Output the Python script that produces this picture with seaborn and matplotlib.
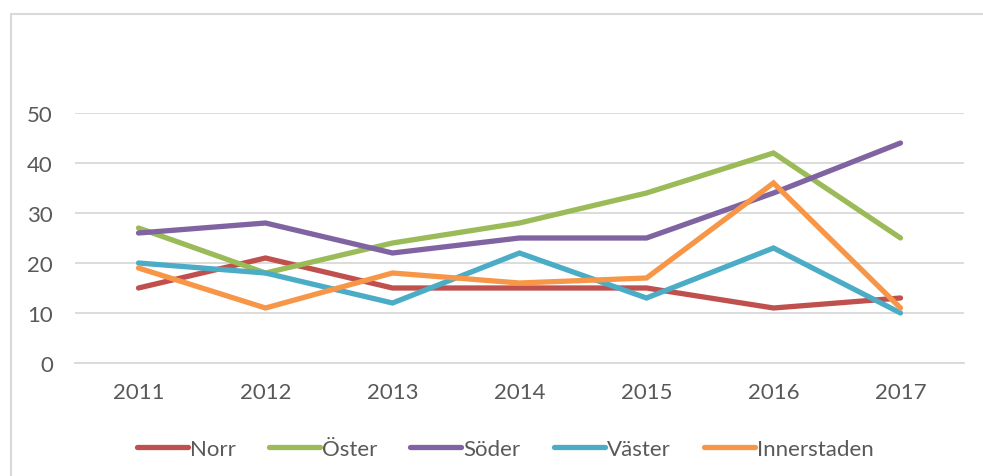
import pandas as pd
import matplotlib.pyplot as plt
import seaborn as sns
from matplotlib.patches import Rectangle

# Data
years = [2011, 2012, 2013, 2014, 2015, 2016, 2017]
norr = [15, 21, 15, 15, 15, 11, 13]
oster = [27, 18, 24, 28, 34, 42, 25]
soder = [26, 28, 22, 25, 25, 34, 44]
vaster = [20, 18, 12, 22, 13, 23, 10]
innerstaden = [19, 11, 18, 16, 17, 36, 11]

areas = ['Norr', 'Öster', 'Söder', 'Väster', 'Innerstaden']
colors = ['#C0504D', '#9BBB59', '#8064A2', '#4BACC6', '#F79646']

rows = []
for name, vals in zip(areas, [norr, oster, soder, vaster, innerstaden]):
    for y, v in zip(years, vals):
        rows.append({'År': y, 'Värde': v, 'Område': name})
df = pd.DataFrame(rows)

sns.set_theme(style="white")
plt.rcParams['font.family'] = ['Lato', 'DejaVu Sans']
text_color = '#595959'
grid_color = '#D9D9D9'
fs = 16

fig = plt.figure(figsize=(9.83, 4.77), dpi=100)
ax = fig.add_axes([75 / 983, 113 / 477, 889 / 983, 250 / 477])

sns.lineplot(data=df, x='År', y='Värde', hue='Område', hue_order=areas,
             palette=colors, linewidth=3.8, ax=ax, legend=True)
for line in ax.get_lines():
    line.set_solid_capstyle('round')
    line.set_solid_joinstyle('miter')

ax.set_xlim(2010.5, 2017.5)
ax.set_ylim(0, 50)
ax.set_xticks(years)
ax.set_xticklabels([str(y) for y in years])
ax.set_yticks([0, 10, 20, 30, 40, 50])
ax.yaxis.grid(True, color=grid_color, linewidth=1.3)
ax.set_axisbelow(True)
for side in ['top', 'right', 'left']:
    ax.spines[side].set_visible(False)
ax.spines['bottom'].set_color(grid_color)
ax.spines['bottom'].set_linewidth(1.3)
ax.tick_params(axis='both', length=0, labelsize=fs, colors=text_color)
ax.tick_params(axis='x', pad=14)
ax.tick_params(axis='y', pad=16)
ax.set_xlabel('')
ax.set_ylabel('')

handles, labels = ax.get_legend_handles_labels()
ax.get_legend().remove()
leg = fig.legend(handles, labels, loc='center', bbox_to_anchor=(0.514, 27 / 477),
                 ncol=5, frameon=False, fontsize=fs, handlelength=2.3,
                 handletextpad=0.1, columnspacing=1.48)
for t in leg.get_texts():
    t.set_color(text_color)
for h in leg.get_lines():
    h.set_linewidth(3.8)
    h.set_solid_capstyle('round')

# outer chart frame
fig.patches.append(Rectangle((11 / 983, -0.1), 1.2, 0.1 + (477 - 15) / 477,
                             transform=fig.transFigure, fill=False,
                             edgecolor=grid_color, linewidth=1.5))

plt.savefig('out.png', dpi=100)
